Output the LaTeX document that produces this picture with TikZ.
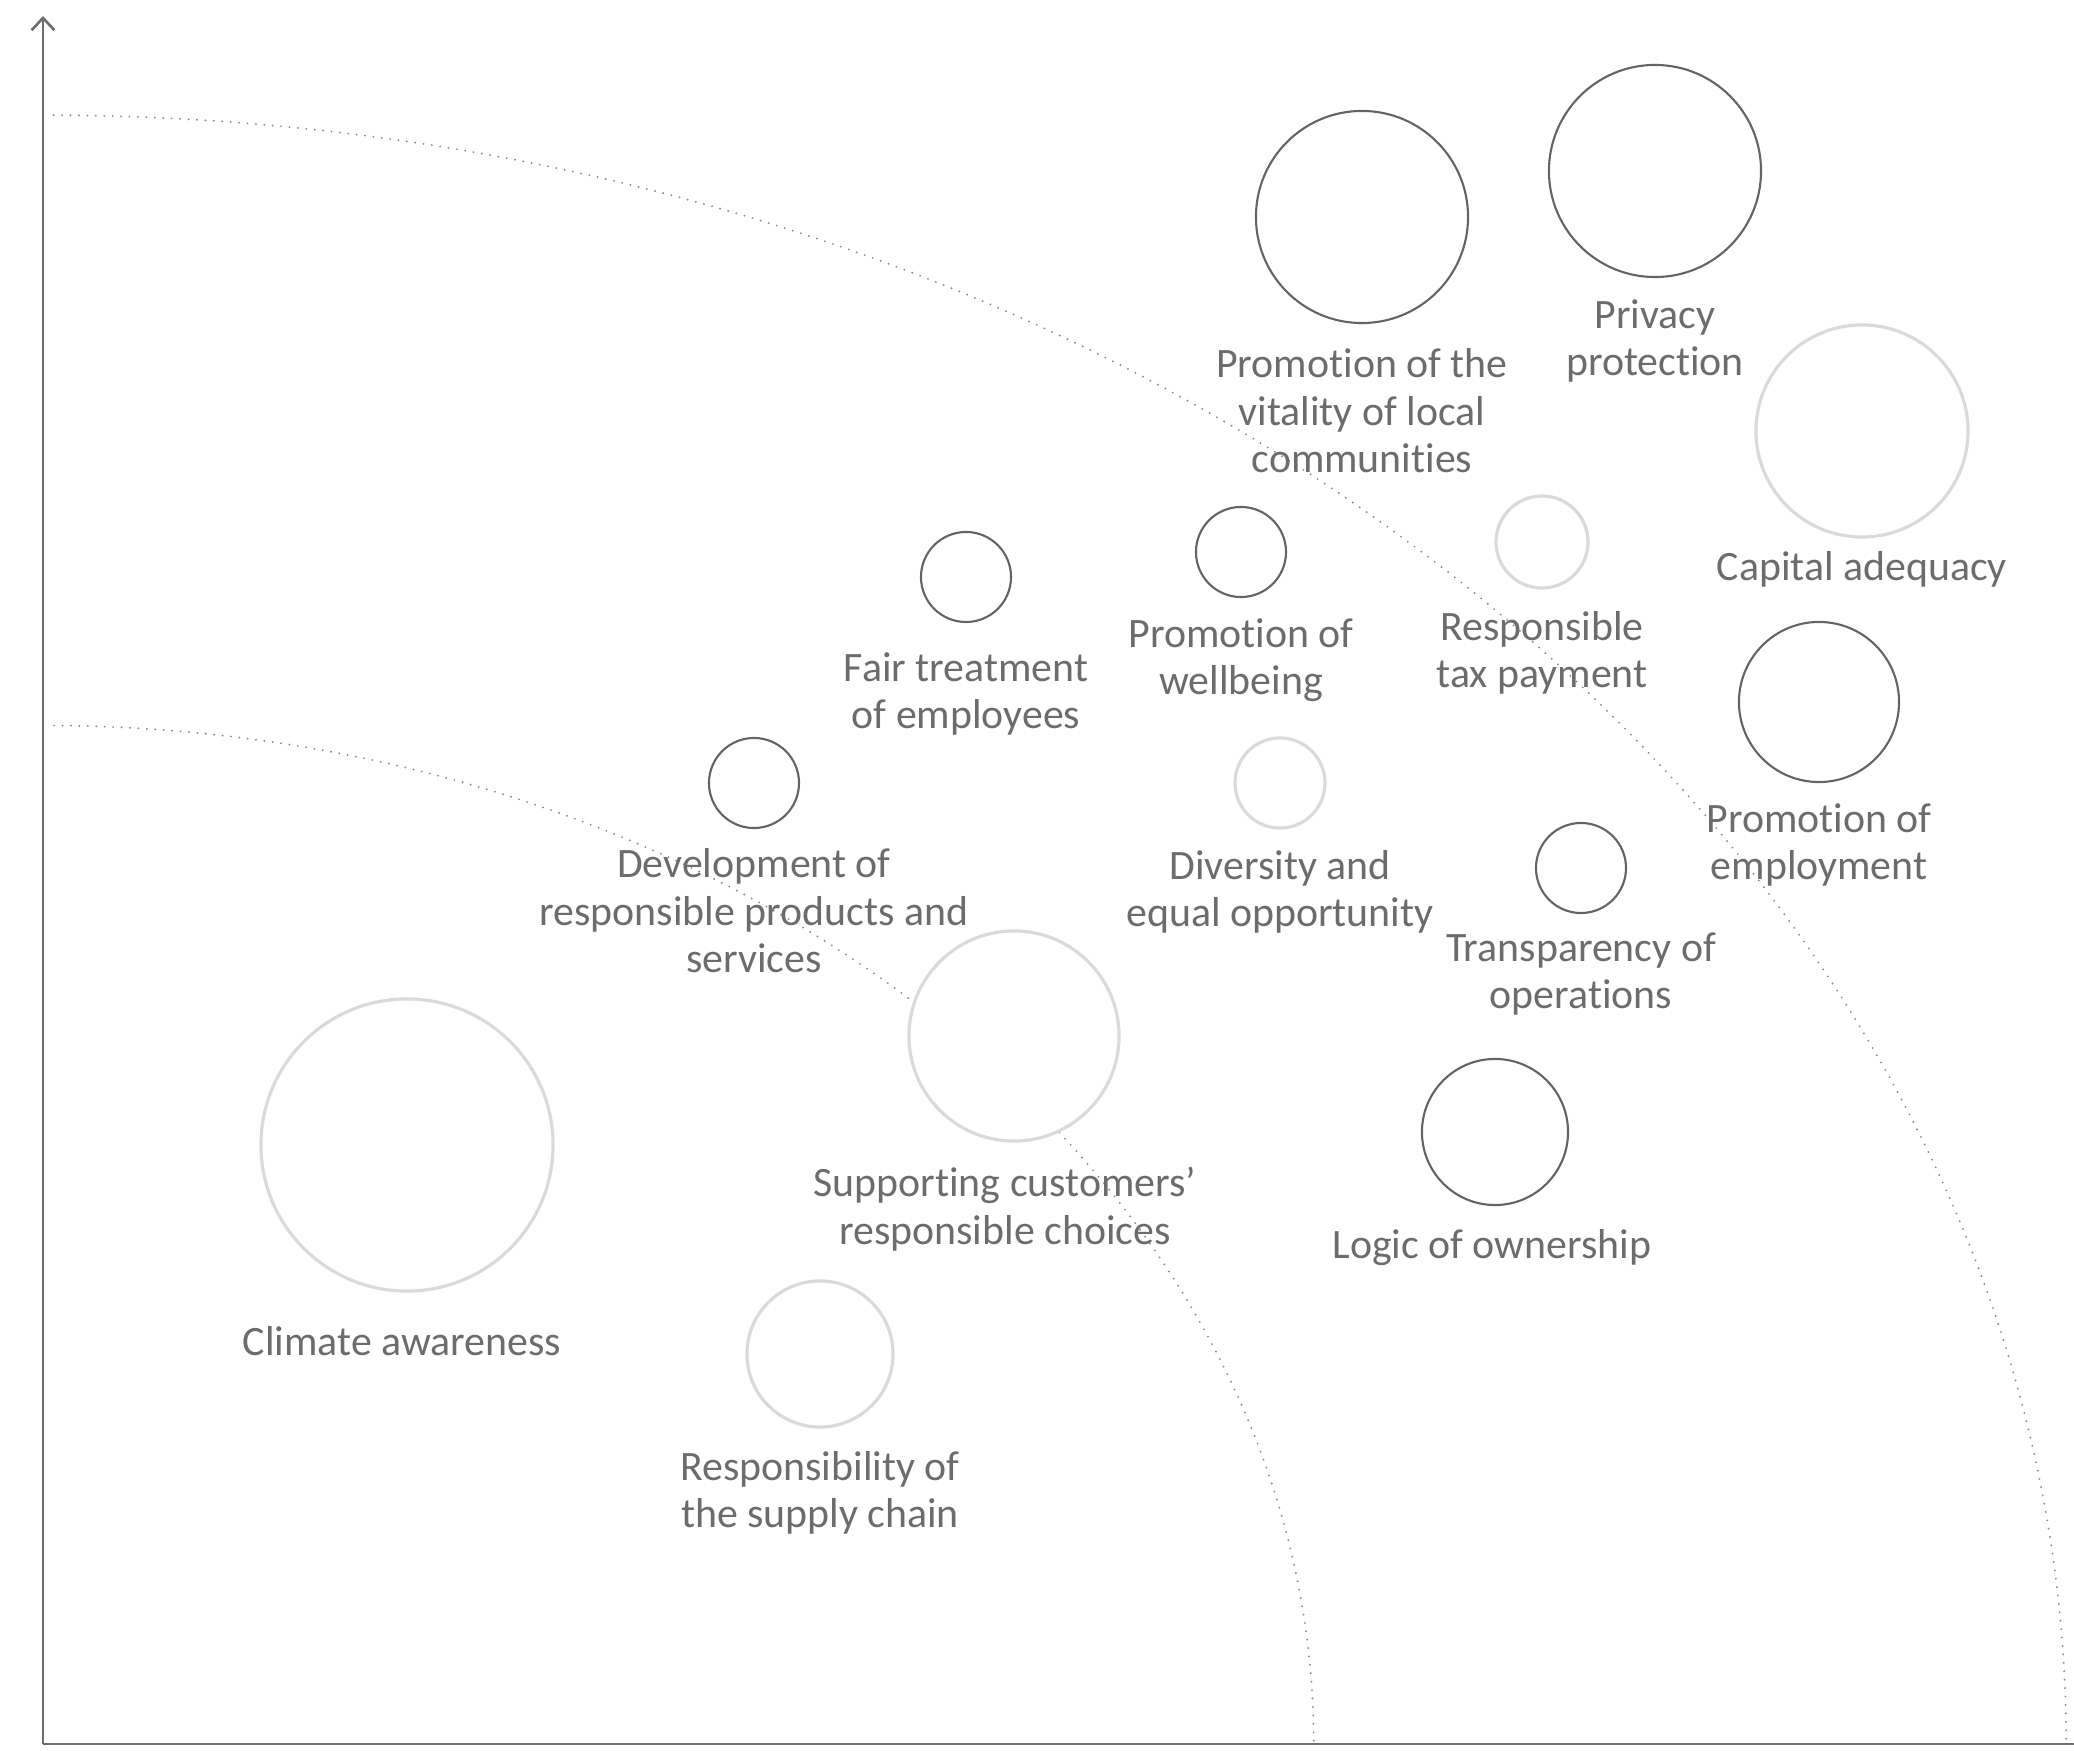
\documentclass[tikz,border=0pt]{standalone}
\usepackage{fontspec}
\setmainfont{Carlito}[Ligatures=NoCommon]
\usetikzlibrary{arrows.meta}
\definecolor{axisgray}{RGB}{110,110,110}
\definecolor{ringdark}{RGB}{100,100,100}
\definecolor{ringlight}{RGB}{218,218,218}
\definecolor{textgray}{RGB}{108,108,108}
\definecolor{dotgray}{RGB}{140,140,140}

\begin{document}
\begin{tikzpicture}[x=0.01cm, y=0.01cm,
  darkring/.style={circle, draw=ringdark, line width=0.6pt, fill=white, inner sep=0pt, outer sep=0pt},
  lightring/.style={circle, draw=ringlight, line width=0.9pt, fill=white, inner sep=0pt, outer sep=0pt},
  topic/.style={font=\fontsize{11.9}{13.5}\selectfont, text=textgray, align=center, inner sep=0pt},
  dotline/.style={dotgray, line width=0.6pt, line cap=round, dash pattern=on 0pt off 2.4pt}]
  \useasboundingbox (0,0) rectangle (2074,1750);

  % Axes
  \coordinate (origin) at (43,6);
  \coordinate (ytop) at (43,1734);
  \coordinate (xend) at (2074,6);
  \draw[axisgray, line width=0.75pt, -{Straight Barb[length=3.5pt,width=6.5pt]}] (origin) -- (ytop);
  \draw[axisgray, line width=0.75pt] (origin) -- (xend);

  % Dotted boundaries
  \draw[dotline] (origin) ++(89.7:20.22cm and 16.28cm) arc[start angle=89.7, end angle=0, x radius=20.22cm, y radius=16.28cm];
  \draw[dotline] (origin) ++(89.5:12.70cm and 10.18cm) arc[start angle=89.5, end angle=0, x radius=12.70cm, y radius=10.18cm];

  % Topics, dark rings
  \node[darkring, minimum size=2.12cm] (vital) at (1362,1533) {};
  \node[darkring, minimum size=2.12cm] (privacy) at (1655,1579) {};
  \node[darkring, minimum size=0.90cm] (wellbeing) at (1241,1198) {};
  \node[darkring, minimum size=0.90cm] (fair) at (966,1173) {};
  \node[darkring, minimum size=1.60cm] (employ) at (1819,1048) {};
  \node[darkring, minimum size=0.90cm] (develop) at (754,967) {};
  \node[darkring, minimum size=0.90cm] (transp) at (1581,882) {};
  \node[darkring, minimum size=1.46cm] (owner) at (1495,618) {};

  % Topics, light rings
  \node[lightring, minimum size=2.12cm] (capital) at (1862,1319) {};
  \node[lightring, minimum size=0.92cm] (tax) at (1542,1208) {};
  \node[lightring, minimum size=0.90cm] (divers) at (1280,967) {};
  \node[lightring, minimum size=2.10cm] (custom) at (1014,714) {};
  \node[lightring, minimum size=2.92cm] (climate) at (407,605) {};
  \node[lightring, minimum size=1.46cm] (supply) at (820,396) {};

  % Labels
  \node[topic] (vital-txt) at (1362,1339) {Promotion of the\\vitality of local\\communities};
  \node[topic] (privacy-txt) at (1655,1409) {Privacy\\protection};
  \node[topic] (capital-txt) at (1862,1181) {Capital adequacy};
  \node[topic] (tax-txt) at (1542,1097) {Responsible\\tax payment};
  \node[topic] (wellbeing-txt) at (1241,1090) {Promotion of\\wellbeing};
  \node[topic] (fair-txt) at (966,1056) {Fair treatment\\of employees};
  \node[topic] (employ-txt) at (1819,905) {Promotion of\\employment};
  \node[topic] (develop-txt) at (754,839) {Development of\\responsible products and\\services};
  \node[topic] (divers-txt) at (1280,858) {Diversity and\\equal opportunity};
  \node[topic] (transp-txt) at (1581,776) {Transparency of\\operations};
  \node[topic] (custom-txt) at (1005,541) {Supporting customers’\\responsible choices};
  \node[topic] (owner-txt) at (1492,502) {Logic of ownership};
  \node[topic] (climate-txt) at (402,409) {Climate awareness};
  \node[topic] (supply-txt) at (820,257) {Responsibility of\\the supply chain};
\end{tikzpicture}
\end{document}
